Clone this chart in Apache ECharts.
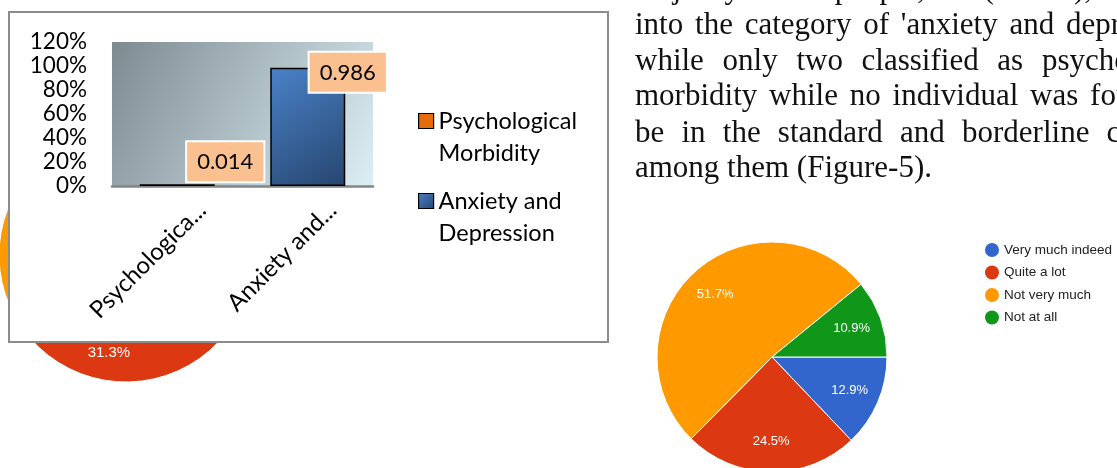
<!DOCTYPE html>
<html>
<head>
<meta charset="utf-8">
<title>Figure 5</title>
<script src="https://cdn.jsdelivr.net/npm/echarts@6/dist/echarts.min.js"></script>
<style>
  html, body { margin: 0; padding: 0; background: #fff; }
  #chart { width: 1117px; height: 468px; }
</style>
</head>
<body>
<div id="chart"></div>
<script>
// inset bar chart (excel style)
var barCats = ['Psychological Morbidity', 'Anxiety and Depression'];
var barTickLabels = ['Psychologica...', 'Anxiety and...'];
var barLegendText = ['Psychological\nMorbidity', 'Anxiety and\nDepression'];
var barValues = [0.014, 0.986];
var yTicks = ['0%', '20%', '40%', '60%', '80%', '100%', '120%'];

// pies (google forms style)
var pieCats = ['Very much indeed', 'Quite a lot', 'Not very much', 'Not at all'];
var pieBackValues = [12.1, 31.3, 45.5, 11.1];   // mostly hidden behind the inset
var pieFrontValues = [12.9, 24.5, 51.7, 10.9];

// paragraph on the right
var textLines = [
  'majority of the people, i.e. (98.6%), fell',
  "into the category of 'anxiety and depression'",
  'while only two classified as psychological',
  'morbidity while no individual was found to',
  'be in the standard and borderline category',
  'among them (Figure-5).'
];
var textGaps = [10.3, 11.8, 18.7, 11.8, 17.2, null];
var textBaselines = [0.5, 36, 72, 107.5, 144, 179.5];

var pieColors = ['#3366CC', '#DC3912', '#FF9900', '#109618'];
var labelOffsets = [[48, 2], [40, 29]];
var LH = 32.5;

var chart = echarts.init(document.getElementById('chart'));

// solid slices get colours, label rings stay see-through
function pieData(vals, solid) {
  return vals.map(function (v, i) {
    var d = { name: pieCats[i], value: v };
    if (solid) d.itemStyle = { color: pieColors[i] };
    return d;
  });
}

var barSeries = barCats.map(function (name, k) {
  var data = barValues.map(function (v, i) {
    if (i !== k) return '-';
    return { value: v, label: { offset: labelOffsets[i] } };
  });
  return {
    name: name,
    type: 'bar',
    z: 4,
    barWidth: 75,
    barGap: '-100%',
    data: data,
    itemStyle: {
      color: k === 0 ? '#E46C0A' : new echarts.graphic.LinearGradient(0, 0, 1, 1, [
        { offset: 0, color: '#4A82C8' },
        { offset: 1, color: '#27466F' }
      ]),
      borderColor: '#000',
      borderWidth: 1.5
    },
    label: {
      show: true,
      position: 'top',
      distance: 5,
      color: '#000',
      fontFamily: 'Lato',
      fontSize: 22,
      lineHeight: 22,
      padding: [9, 10, 8, 10],
      backgroundColor: '#FAC090',
      borderColor: '#fff',
      borderWidth: 2
    }
  };
});

var textEls = textLines.map(function (line, i) {
  var txt = textGaps[i] == null ? line : line.split(' ').join('{g| }');
  return {
    type: 'text',
    x: 635,
    y: textBaselines[i] - 10.5,
    z: 5,
    silent: true,
    style: {
      text: txt,
      font: '31px "Liberation Serif"',
      fill: '#111',
      verticalAlign: 'middle',
      align: 'left',
      rich: textGaps[i] == null ? {} : { g: { width: textGaps[i] } }
    }
  };
});

// blank first line keeps the first text line level with the icon
function barLegend(k, iconY) {
  return {
    data: [barCats[k]],
    orient: 'vertical',
    left: 418,
    top: iconY - 1.5 * LH,
    padding: 0,
    z: 5,
    selectedMode: false,
    icon: 'rect',
    itemWidth: 15,
    itemHeight: 15,
    itemStyle: { borderColor: '#000', borderWidth: 1.2 },
    formatter: function () { return '\n' + barLegendText[k]; },
    textStyle: { fontFamily: 'Lato', fontSize: 23.5, color: '#000', lineHeight: LH }
  };
}

chart.setOption({
  animation: false,
  backgroundColor: '#fff',
  grid: {
    left: 112, top: 42, width: 261, height: 144,
    show: true, z: 2, borderWidth: 0,
    backgroundColor: new echarts.graphic.LinearGradient(0, 0, 1, 1, [
      { offset: 0, color: '#7D8B91' },
      { offset: 1, color: '#DCEFF5' }
    ])
  },
  xAxis: {
    type: 'category',
    data: barCats,
    z: 3,
    axisTick: { show: false },
    axisLine: { lineStyle: { color: '#858585', width: 2.5 } },
    axisLabel: {
      interval: 0,
      rotate: 45,
      margin: 45,
      padding: [0, -35, 0, 0],
      fontFamily: 'Lato', fontSize: 24, color: '#000',
      formatter: function (v, i) { return barTickLabels[i]; }
    }
  },
  yAxis: {
    type: 'value',
    min: 0, max: 1.2, interval: 0.2,
    z: 3,
    splitLine: { show: false },
    axisLine: { show: false },
    axisTick: { show: false },
    axisLabel: {
      margin: 25,
      fontFamily: 'Lato', fontSize: 22.5, color: '#000',
      formatter: function (v) { return yTicks[Math.round(v / 0.2)]; }
    }
  },
  legend: [
    barLegend(0, 121),
    barLegend(1, 201),
    {
      data: pieCats,
      orient: 'vertical',
      left: 985, top: 243,
      padding: 0,
      z: 5,
      selectedMode: false,
      icon: 'circle',
      itemWidth: 14, itemHeight: 14, itemGap: 8.5,
      itemStyle: { borderWidth: 0 },
      textStyle: { fontFamily: 'Liberation Sans', fontSize: 13.5, color: '#222' }
    }
  ],
  graphic: [
    {
      type: 'rect',
      z: 1,
      silent: true,
      shape: { x: 9, y: 12, width: 599, height: 330 },
      style: { fill: '#fff', stroke: '#8c8c8c', lineWidth: 2 }
    }
  ].concat(textEls),
  series: barSeries.concat([
    {
      type: 'pie', z: 0, silent: true,
      center: [126, 255], radius: [0, 127],
      startAngle: 0, clockwise: true,
      data: pieData(pieBackValues, true),
      itemStyle: { borderColor: '#fff', borderWidth: 1 },
      label: { show: false }, labelLine: { show: false }
    },
    {
      type: 'pie', z: 0, silent: true,
      center: [126, 255], radius: [66, 127],
      startAngle: 0, clockwise: true,
      data: pieData(pieBackValues, false),
      itemStyle: { color: 'rgba(0,0,0,0)', borderWidth: 0 },
      label: {
        show: true, position: 'inside', formatter: '{c}%',
        color: '#fff', fontFamily: 'Liberation Sans', fontSize: 15, textBorderWidth: 0
      },
      labelLine: { show: false }
    },
    {
      type: 'pie', z: 2, silent: true,
      center: [772, 357], radius: [0, 115],
      startAngle: 0, clockwise: true,
      data: pieData(pieFrontValues, true),
      itemStyle: { borderColor: '#fff', borderWidth: 1 },
      label: { show: false }, labelLine: { show: false }
    },
    {
      type: 'pie', z: 2, silent: true,
      center: [772, 357], radius: [48, 115],
      startAngle: 0, clockwise: true,
      data: pieData(pieFrontValues, false),
      itemStyle: { color: 'rgba(0,0,0,0)', borderWidth: 0 },
      label: {
        show: true, position: 'inside', formatter: '{c}%',
        color: '#fff', fontFamily: 'Liberation Sans', fontSize: 13, textBorderWidth: 0
      },
      labelLine: { show: false }
    }
  ])
});
</script>
</body>
</html>
